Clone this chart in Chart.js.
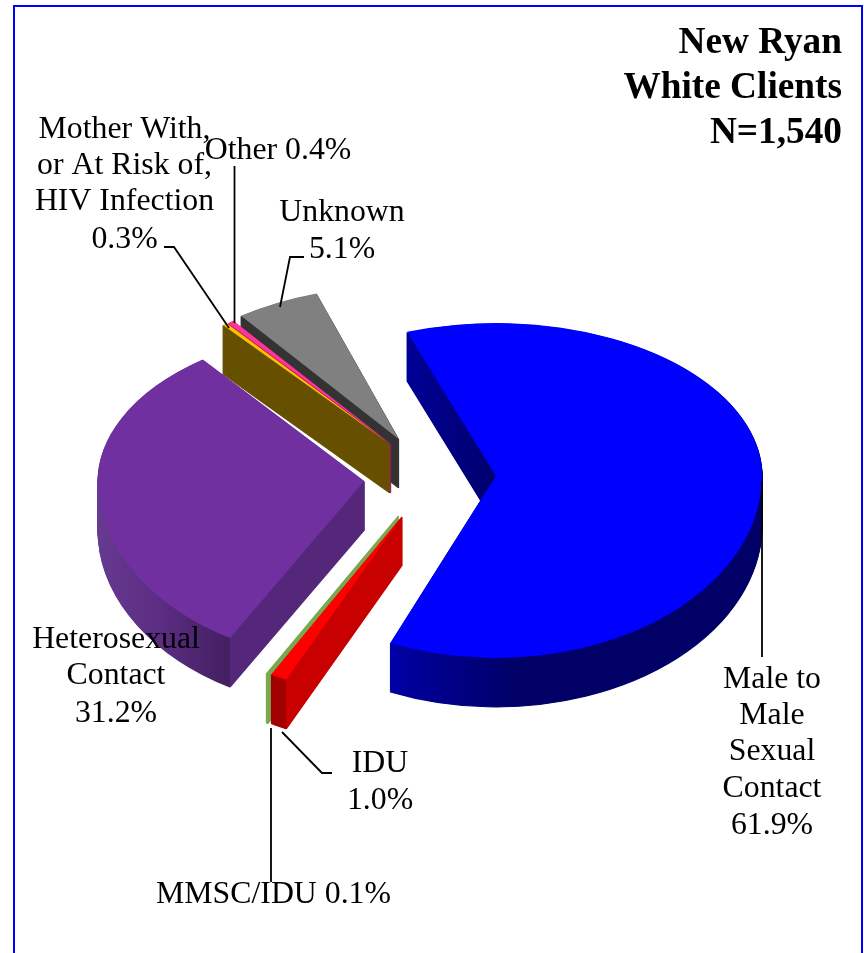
<!DOCTYPE html>
<html>
<head>
<meta charset="utf-8">
<title>New Ryan White Clients</title>
<script src="https://cdn.jsdelivr.net/npm/chart.js@4"></script>
<style>
    html, body { margin: 0; padding: 0; background: #fff; }
    canvas { display: block; }
</style>
</head>
<body>
<canvas id="grafico" width="864" height="953"></canvas>
<script>
// data, clockwise from the top of the pie
const categories = ['Male to Male Sexual Contact', 'IDU', 'MMSC/IDU', 'Heterosexual Contact',
    'Mother With, or At Risk of, HIV Infection', 'Other', 'Unknown'];
const shareValues = [61.9, 1.0, 0.1, 31.2, 0.3, 0.4, 5.1];
const titleLines = ['New Ryan', 'White Clients', 'N=1,540'];

// styles
const sliceColors = ['#0000ff', '#ff0000', '#7aa84e', '#7030a0', '#ffc000', '#ff3399', '#808080'];
const sliceBorders = [0, 0, 1.5, 0, 0, 0, 0];
// explode distance of each slice. not the chart.js offset, that one also narrows the arc
const sliceExplode = [64, 71, 72, 68, 68, 68, 73];
// small corrections for the perspective of the original, degrees and pixels
const sliceTurn = [-1.5, 1, 1, 1.5, 0, 0, 0];
const sliceNudgeX = [0, 2, 1, 0, 0, 0, 0];
const sliceNudgeY = [0, 0, 0, 4, 2, 2, 3];
const wallRimColors = [
    ['#0000a4', '#000066', '#000066', '#000066'],
    ['#a00000', '#a00000'],
    ['#7aa84e', '#7aa84e'],
    ['#663a90', '#5a2c82', '#431f60'],
    ['#665000', '#665000'],
    ['#a01060', '#a01060'],
    ['#333333', '#333333']
];
const wallCutColors = [null, '#c80000', null, '#55277a', null, null, null];
const drawOrder = [6, 5, 4, 3, 2, 1, 0];

// fake 3D: the far half of the pie is flatter than the near half
const squashFar = 0.575;
const squashNear = 0.684;
const pieDepth = 49;

// text and leader lines, page pixels
const labelFont = '31.8px "Liberation Serif"';
const titleFont = 'bold 37.3px "Liberation Serif"';
const labelBlocks = [
    { x: 772, y: [688, 724, 760, 797, 834], lines: ['Male to', 'Male', 'Sexual', 'Contact', '61.9%'] },
    { x: 380, y: [771.5, 808.5], lines: ['IDU', '1.0%'] },
    { x: 273.5, y: [903], lines: ['MMSC/IDU 0.1%'] },
    { x: 116, y: [648, 684, 721.5], lines: ['Heterosexual', 'Contact', '31.2%'] },
    { x: 124.5, y: [138, 174, 210, 248], lines: ['Mother With,', 'or At Risk of,', 'HIV Infection', '0.3%'] },
    { x: 278, y: [159], lines: ['Other 0.4%'] },
    { x: 342, y: [220.5, 257.5], lines: ['Unknown', '5.1%'] }
];
const leaders = [
    [[762, 482], [762, 657]],
    [[282, 732], [322, 773], [332, 773]],
    [[271, 728], [271, 882]],
    [[229, 328], [174, 247], [164, 247]],
    [[234.5, 323], [234.5, 166]],
    [[280, 307], [290, 257], [304, 257]]
];

function wallFill(ctx, arc, i) {
    const mid = (arc.startAngle + arc.endAngle) / 2;
    const dx = Math.cos(mid) * sliceExplode[i];
    const ax = arc.x + dx;
    const r = arc.outerRadius;
    const startX = ax + Math.cos(arc.startAngle) * r;
    const endX = ax + Math.cos(arc.endAngle) * r;
    const cut = wallCutColors[i];
    let x0 = Math.min(startX, endX);
    if (i === 3) x0 = ax - r;
    const x1 = cut ? startX : ax + r;
    // the gradient lives in the slice's own space, so take the explode shift back out
    const g = ctx.createLinearGradient(x0 - dx, 0, (cut ? x1 + 400 : x1) - dx, 0);
    const stops = wallRimColors[i];
    const span = cut ? (x1 - x0) / (x1 + 400 - x0) : 1;
    stops.forEach((c, n) => g.addColorStop(span * n / (stops.length - 1), c));
    if (cut) {
        g.addColorStop(span, cut);
        g.addColorStop(1, cut);
    }
    return g;
}

function drawHalf(chart, arc, i, clipTop, clipBottom, squash, pivot, dx) {
    const ctx = chart.ctx;
    ctx.save();
    ctx.beginPath();
    ctx.rect(0, clipTop, chart.width, clipBottom - clipTop);
    ctx.clip();
    ctx.transform(1, 0, 0, squash, dx, pivot - arc.y * squash);
    ctx.translate(arc.x, arc.y);
    ctx.rotate(sliceTurn[i] * Math.PI / 180);
    ctx.translate(-arc.x, -arc.y);
    arc.draw(ctx);
    ctx.restore();
}

function drawPiece(chart, arc, i, drop) {
    const mid = (arc.startAngle + arc.endAngle) / 2;
    const dx = Math.cos(mid) * sliceExplode[i] + sliceNudgeX[i];
    const dy = Math.sin(mid) * sliceExplode[i];
    const pivot = Math.round(arc.y + dy * (dy < 0 ? squashFar : squashNear) + sliceNudgeY[i] + drop);
    drawHalf(chart, arc, i, 0, pivot, squashFar, pivot, dx);
    drawHalf(chart, arc, i, pivot, chart.height, squashNear, pivot, dx);
}

const pie3d = {
    id: 'pie3d',
    beforeDatasetDraw(chart) {
        const arcs = chart.getDatasetMeta(0).data;
        drawOrder.forEach(i => {
            const arc = arcs[i];
            const top = arc.options;
            const fill = wallFill(chart.ctx, arc, i);
            // the border keeps the thin ends of the slices from fading out when stacked
            arc.options = Object.assign({}, top, { backgroundColor: fill, borderColor: fill, borderWidth: 1.5 });
            for (let d = pieDepth; d > 0; d--) drawPiece(chart, arc, i, d);
            arc.options = top;
            drawPiece(chart, arc, i, 0);
        });
        return false;
    }
};

const annotations = {
    id: 'annotations',
    afterDraw(chart) {
        const ctx = chart.ctx;
        ctx.save();
        ctx.strokeStyle = '#0000ff';
        ctx.lineWidth = 2;
        ctx.beginPath();
        ctx.moveTo(14, 960);
        ctx.lineTo(14, 6);
        ctx.lineTo(862, 6);
        ctx.lineTo(862, 960);
        ctx.stroke();

        ctx.strokeStyle = '#000';
        ctx.lineWidth = 1.8;
        leaders.forEach(pts => {
            ctx.beginPath();
            pts.forEach((p, n) => n ? ctx.lineTo(p[0], p[1]) : ctx.moveTo(p[0], p[1]));
            ctx.stroke();
        });

        ctx.fillStyle = '#000';
        ctx.font = labelFont;
        ctx.textAlign = 'center';
        labelBlocks.forEach(b => b.lines.forEach((t, n) => ctx.fillText(t, b.x, b.y[n])));

        ctx.font = titleFont;
        ctx.textAlign = 'right';
        titleLines.forEach((t, n) => ctx.fillText(t, 842, 52.5 + n * 45));
        ctx.restore();
    }
};

const canvas = document.getElementById('grafico').getContext('2d');

const grafico = new Chart(canvas, {
    type: 'pie',
    data: {
        labels: categories,
        datasets: [{
            data: shareValues,
            backgroundColor: sliceColors,
            borderColor: sliceColors,
            borderWidth: sliceBorders,
            radius: 266
        }]
    },
    options: {
        responsive: false,
        animation: false,
        rotation: -18,
        layout: { padding: { bottom: 7 } },
        plugins: {
            legend: { display: false },
            tooltip: { enabled: false }
        }
    },
    plugins: [pie3d, annotations]
});
</script>
</body>
</html>
